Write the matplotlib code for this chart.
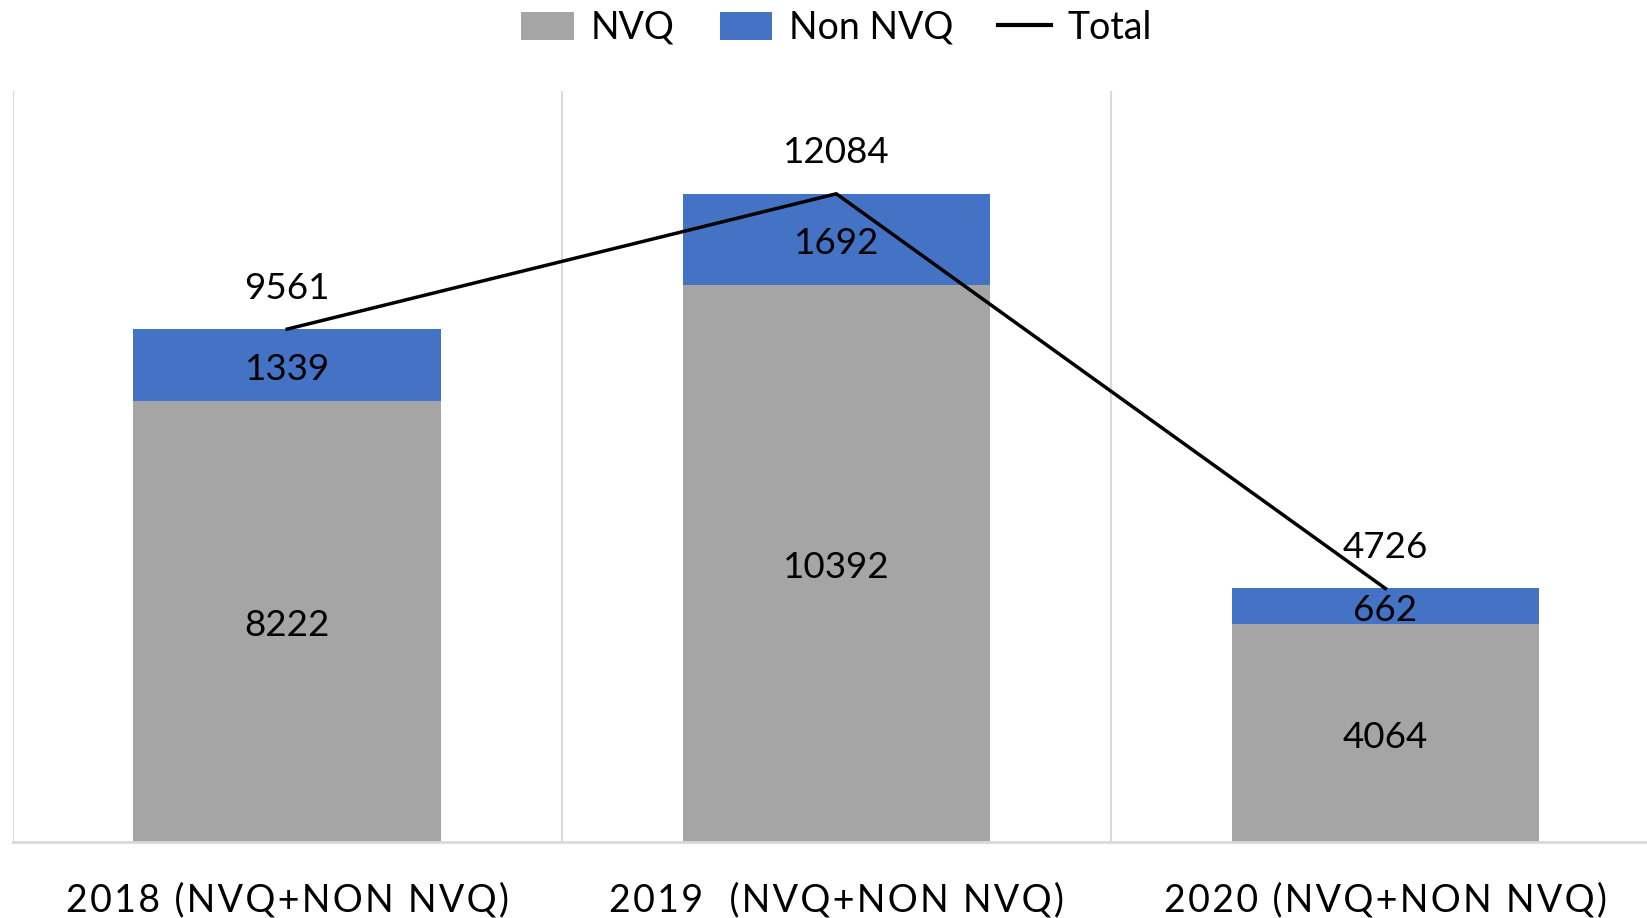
import matplotlib
matplotlib.use("Agg")
import matplotlib.pyplot as plt
from matplotlib.patches import Patch
from matplotlib.lines import Line2D
import numpy as np

categories = ["2018 (NVQ+NON NVQ)", "2019  (NVQ+NON NVQ)", "2020 (NVQ+NON NVQ)"]
nvq = [8222, 10392, 4064]
non_nvq = [1339, 1692, 662]
total = [9561, 12084, 4726]

GRAY = "#A5A5A5"
BLUE = "#4472C4"
GRID = "#D9D9D9"
FONT = ["Lato", "DejaVu Sans"]

plt.rcParams["font.family"] = FONT

W, H = 1647, 918
fig = plt.figure(figsize=(W / 100, H / 100), dpi=100)
left_px, right_px = 12.6, 1660
top_px, bot_px = 91, 842
ax = fig.add_axes([left_px / W, 1 - bot_px / H, (right_px - left_px) / W, (bot_px - top_px) / H])

x = np.arange(len(categories))
bw = 0.56
ax.bar(x, nvq, width=bw, color=GRAY, zorder=2)
ax.bar(x, non_nvq, width=bw, bottom=nvq, color=BLUE, zorder=2)
ax.plot(x, total, color="black", lw=2.5, zorder=3)

ax.set_xlim(-0.5, 2.5)
ax.set_ylim(0, 14000)

fs = 26.5
for xi, n, nn, t in zip(x, nvq, non_nvq, total):
    ax.annotate(f"{n}", (xi, n / 2), xytext=(0, -3), textcoords="offset points",
                ha="center", va="center", fontsize=fs, zorder=4)
    ax.annotate(f"{nn}", (xi, n + nn / 2), xytext=(0, -3), textcoords="offset points",
                ha="center", va="center", fontsize=fs, zorder=4)
    ax.annotate(f"{t}", (xi, t), xytext=(0, 29.5), textcoords="offset points",
                ha="center", va="center", fontsize=fs, zorder=4)

# category separators
for b in [-0.5, 0.5, 1.5]:
    ax.axvline(b, color=GRID, lw=1.5, zorder=1)

for s in ["top", "right", "left"]:
    ax.spines[s].set_visible(False)
ax.spines["bottom"].set_color(GRID)
ax.spines["bottom"].set_linewidth(2)
ax.set_yticks([])
ax.set_xticks(x)
spaced = ["\u200a".join(list(c)) for c in categories]
ax.set_xticklabels(spaced, fontsize=27)
ax.tick_params(axis="x", length=0, pad=29)

handles = [Patch(facecolor=GRAY, label="NVQ"),
           Patch(facecolor=BLUE, label="Non NVQ"),
           Line2D([0], [0], color="black", lw=3, label="Total")]
fig.legend(handles=handles, loc="center", bbox_to_anchor=(0.508, 1 - 28 / H), ncol=3,
           frameon=False, fontsize=27, handlelength=1.4, handleheight=0.8,
           columnspacing=1.2, handletextpad=0.45)

fig.savefig("out.png", dpi=100, facecolor="white")
